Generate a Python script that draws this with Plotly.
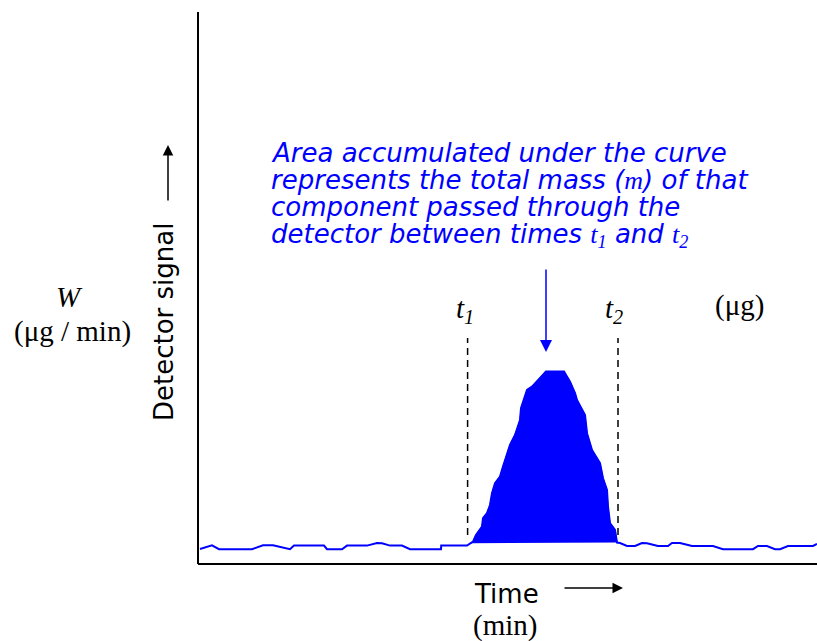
import plotly.graph_objects as go

# ---- data (time in arbitrary minutes, detector signal W in arbitrary µg/min) ----
base_left_t = [0.10, 0.70, 1.05, 2.70, 3.25, 3.75, 4.60, 4.80, 6.30, 6.45, 7.20, 7.45,
               8.45, 8.95, 9.20, 9.60, 10.20, 10.60, 12.15, 12.16, 13.45]
base_left_w = [0.75, 0.93, 0.74, 0.74, 0.94, 0.94, 0.74, 0.92, 0.92, 0.74, 0.74, 0.92,
               0.92, 1.05, 1.04, 0.92, 0.92, 0.74, 0.74, 0.92, 0.92]

peak_t = [13.65, 13.75, 13.90, 14.20, 14.25, 14.45, 14.60, 14.70, 14.85, 15.10, 15.25,
          15.50, 15.60, 15.85, 16.10, 16.15, 16.45, 16.70, 17.40, 18.30, 18.60, 18.85,
          18.95, 19.35, 19.45, 19.70, 20.10, 20.25, 20.45, 20.50, 20.60, 20.85, 20.95]
peak_w = [1.04, 1.12, 1.45, 1.87, 2.29, 2.54, 2.95, 3.54, 4.04, 4.37, 4.87,
          5.70, 5.95, 6.45, 7.20, 7.79, 8.70, 8.87, 9.62, 9.62, 9.12, 8.54,
          8.20, 7.45, 6.54, 5.70, 5.04, 4.29, 3.70, 2.87, 2.04, 1.70, 1.07]

base_right_t = [21.10, 21.45, 21.85, 22.20, 22.45, 23.00, 23.50, 23.70, 24.10, 24.70,
                25.75, 26.25, 27.75, 28.00, 28.45, 28.85, 29.10, 29.50, 30.75, 30.95]
base_right_w = [1.05, 0.90, 0.90, 1.05, 1.04, 0.90, 0.90, 1.05, 1.05, 0.90,
                0.90, 0.74, 0.74, 0.90, 0.90, 0.74, 0.74, 0.90, 0.90, 1.00]

t1, t2 = 13.48, 21.0
dash_lo, dash_hi = 1.45, 11.3
axis_t_max, axis_w_max = 30.95, 27.6

note_lines = [
    "Area accumulated under the curve",
    "represents the total mass (<span style=\"font-family:Liberation Serif\">m</span>) of that",
    "component passed through the",
    "detector between times <span style=\"font-family:Liberation Serif\">t<sub>1</sub></span> and "
    "<span style=\"font-family:Liberation Serif\">t<sub>2</sub></span>",
]

BLUE = "#0000FF"
SANS = "DejaVu Sans"
SERIF = "Liberation Serif"

fig = go.Figure()

# filled peak area
fig.add_trace(go.Scatter(x=peak_t, y=peak_w, mode="lines", fill="toself",
                         fillcolor=BLUE, line=dict(color=BLUE, width=1),
                         hoverinfo="skip"))
# detector trace
fig.add_trace(go.Scatter(x=base_left_t + peak_t + base_right_t,
                         y=base_left_w + peak_w + base_right_w,
                         mode="lines", line=dict(color=BLUE, width=2),
                         hoverinfo="skip"))
# t1 / t2 dashed markers
for tv in (t1, t2):
    fig.add_trace(go.Scatter(x=[tv, tv], y=[dash_lo, dash_hi], mode="lines",
                             line=dict(color="black", width=1.5, dash="7px,5px"),
                             hoverinfo="skip"))

# axes lines
fig.add_shape(type="line", x0=0, x1=0, y0=0, y1=axis_w_max, xref="x", yref="y",
              line=dict(color="black", width=2))
fig.add_shape(type="line", x0=0, x1=axis_t_max, y0=0, y1=0, xref="x", yref="y",
              line=dict(color="black", width=2))

ann = []
# blue explanatory text
note_top = [21.35, 20.0, 18.65, 17.3]
for txt, yt in zip(note_lines, note_top):
    ann.append(dict(x=3.6, y=yt, xref="x", yref="y", text=txt, showarrow=False,
                    xanchor="left", yanchor="top", borderpad=0,
                    font=dict(family=SANS, size=26, color=BLUE, style="italic")))
# blue arrow
ann.append(dict(x=17.4, y=10.6, ax=17.4, ay=14.8, xref="x", yref="y", axref="x", ayref="y",
                text="", showarrow=True, arrowhead=2, arrowsize=1.6, arrowwidth=1.5,
                arrowcolor=BLUE))
# t labels
for tv, lab, xc in ((t1, "1", 13.35), (t2, "2", 20.8)):
    ann.append(dict(x=xc, y=12.7, xref="x", yref="y", text=f"t<sub>{lab}</sub>",
                    showarrow=False, font=dict(family=SERIF, size=29, color="black",
                                               style="italic")))
# (µg)
ann.append(dict(x=27.05, y=12.95, xref="x", yref="y", text="(μg)", showarrow=False,
                font=dict(family=SERIF, size=29, color="black")))
# W label
ann.append(dict(x=-6.45, y=13.35, xref="x", yref="y", text="W", showarrow=False,
                font=dict(family=SERIF, size=29, color="black", style="italic")))
ann.append(dict(x=-6.3, y=11.65, xref="x", yref="y", text="(μg / min)", showarrow=False,
                font=dict(family=SERIF, size=29, color="black")))
# Detector signal
ann.append(dict(x=-1.7, y=12.1, xref="x", yref="y", text="Detector signal", showarrow=False,
                textangle=-90, font=dict(family=SANS, size=26, color="black")))
ann.append(dict(x=-1.5, y=20.95, ax=-1.5, ay=18.1, xref="x", yref="y", axref="x", ayref="y",
                text="", showarrow=True, arrowhead=2, arrowsize=1.4, arrowwidth=1.5,
                arrowcolor="black"))
# Time
ann.append(dict(x=15.4, y=-1.5, xref="x", yref="y", text="Time", showarrow=False,
                font=dict(family=SANS, size=26, color="black")))
ann.append(dict(x=21.25, y=-1.2, ax=18.25, ay=-1.2, xref="x", yref="y", axref="x", ayref="y",
                text="", showarrow=True, arrowhead=2, arrowsize=1.4, arrowwidth=1.5,
                arrowcolor="black"))
ann.append(dict(x=15.35, y=-3.08, xref="x", yref="y", text="(min)", showarrow=False,
                font=dict(family=SERIF, size=29, color="black")))

fig.update_layout(
    width=817, height=641, margin=dict(l=0, r=0, t=0, b=0),
    paper_bgcolor="white", plot_bgcolor="white", showlegend=False,
    xaxis=dict(range=[-9.9, 30.95], visible=False, fixedrange=True),
    yaxis=dict(range=[-3.85, 28.2], visible=False, fixedrange=True),
    annotations=ann,
)

fig.write_html("out.html", config={"displayModeBar": False},
               post_script="document.body.style.margin='0';")
